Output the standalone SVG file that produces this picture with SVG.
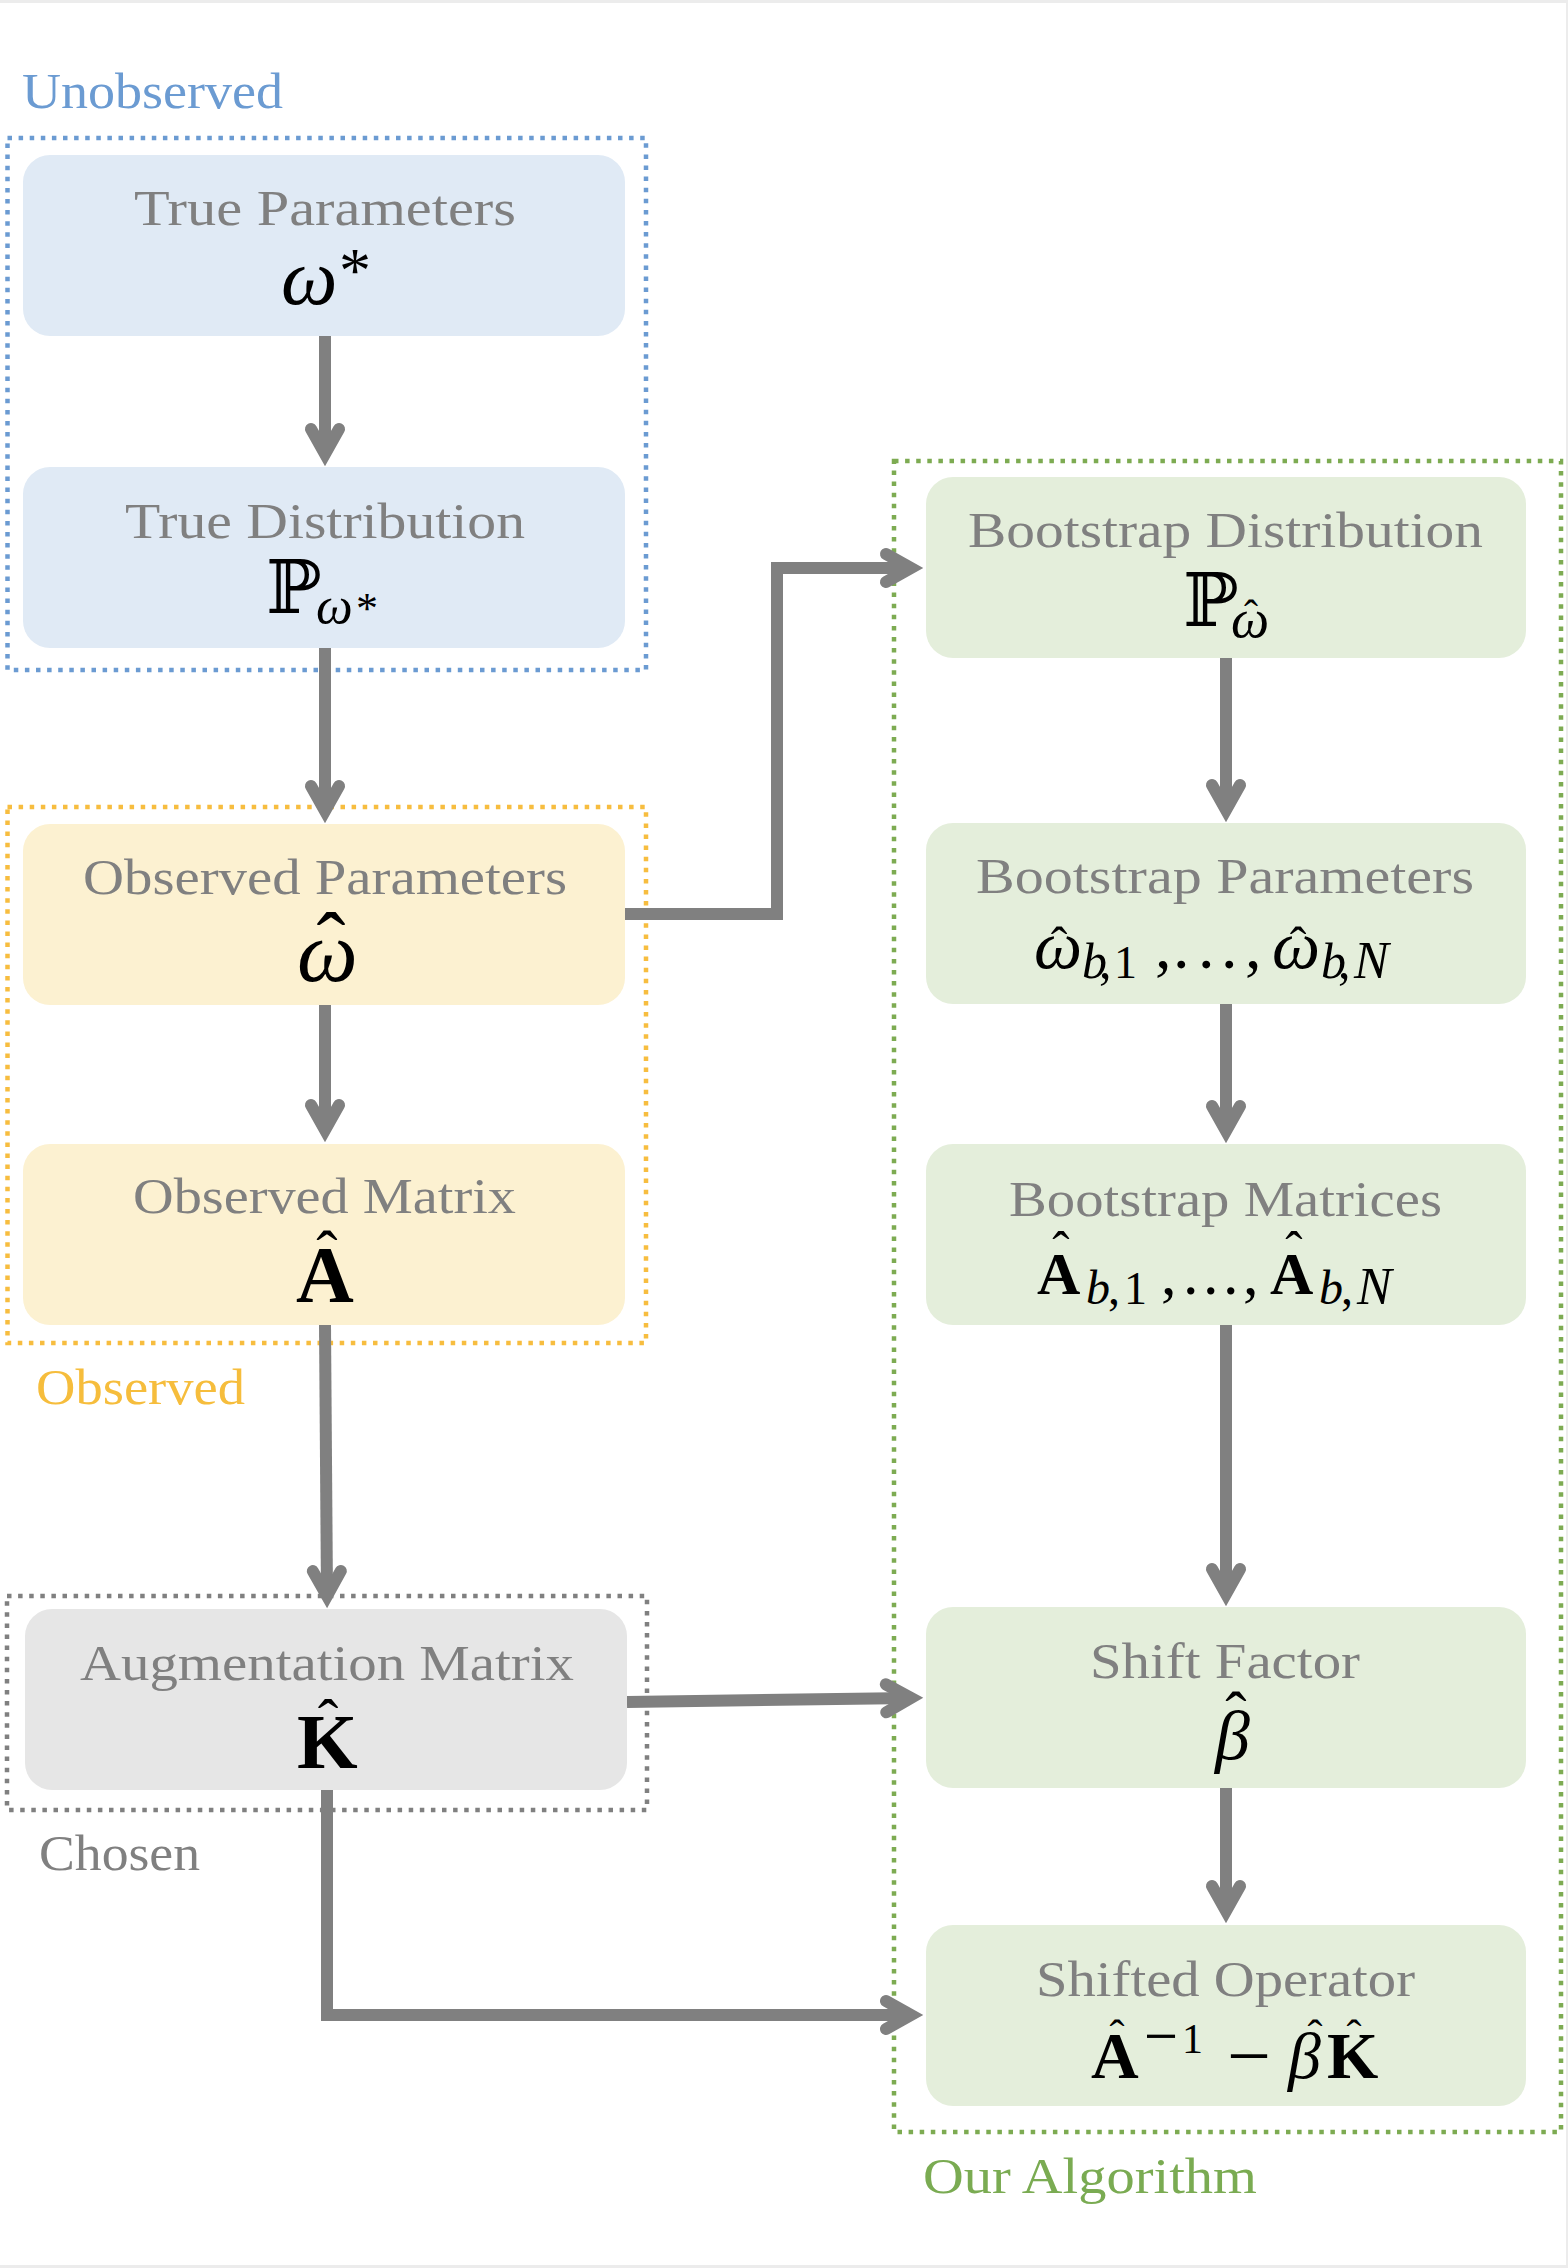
<svg xmlns="http://www.w3.org/2000/svg" width="1568" height="2268" viewBox="0 0 1568 2268">
<defs>
<style>
.bg{fill:#ececec}
.paper{fill:#ffffff}
.lbl{font-family:"Liberation Serif",serif;font-size:51px;fill:#808080}
.grp{font-family:"Liberation Serif",serif;font-size:51px}
.m{font-family:"Liberation Serif",serif;fill:#000}
.mi{font-style:italic}
.mb{font-weight:bold}
.bb{font-family:"DejaVu Serif","DejaVu Sans",serif;fill:#000}
.dot{fill:none;stroke-width:4.5;stroke-dasharray:4.5 6.6}
.n-blue{fill:#e0eaf5}
.n-yellow{fill:#fcf1d1}
.n-gray{fill:#e6e6e6}
.n-green{fill:#e4eedb}
.conn{fill:none;stroke:#808080;stroke-width:12;stroke-linejoin:miter;stroke-linecap:butt;marker-end:url(#arr)}
</style>
<marker id="arr" markerUnits="userSpaceOnUse" viewBox="-40 -30 60 60" markerWidth="60" markerHeight="60" refX="0" refY="0" orient="auto" overflow="visible">
<path d="M -25,-14 L 0,0 L -25,14" fill="none" stroke="#808080" stroke-width="12" stroke-linecap="round" stroke-linejoin="miter"/>
</marker>
</defs>
<rect class="bg" x="0" y="0" width="1568" height="2268"/>
<rect class="paper" x="0" y="3" width="1566" height="2262"/>

<g id="group-unobserved">
<rect class="dot" x="7.5" y="138" width="638.5" height="532" stroke="#6b9bd2"/>
<text class="grp" x="22" y="108" fill="#6b9bd2" textLength="261" lengthAdjust="spacingAndGlyphs">Unobserved</text>
</g>
<g id="group-observed">
<rect class="dot" x="7.5" y="807" width="638.5" height="536" stroke="#f7bd3f"/>
<text class="grp" x="36" y="1404" fill="#f6bd3c" textLength="209" lengthAdjust="spacingAndGlyphs">Observed</text>
</g>
<g id="group-chosen">
<rect class="dot" x="7" y="1596" width="640" height="214" stroke="#808080"/>
<text class="grp" x="39" y="1870" fill="#808080" textLength="161" lengthAdjust="spacingAndGlyphs">Chosen</text>
</g>
<g id="group-algorithm">
<rect class="dot" x="894" y="461" width="667" height="1671" stroke="#7dab52"/>
<text class="grp" x="923" y="2193" fill="#7aab52" textLength="334" lengthAdjust="spacingAndGlyphs">Our Algorithm</text>
</g>

<g id="connectors">
<path class="conn" d="M325,336 L325,454"/>
<path class="conn" d="M325,648 L325,811"/>
<path class="conn" d="M325,1004 L325,1130"/>
<path class="conn" d="M325,1325 L327,1596"/>
<path class="conn" d="M625,914 L777,914 L777,568 L911,568"/>
<path class="conn" d="M1226,658 L1226,810"/>
<path class="conn" d="M1226,1004 L1226,1131"/>
<path class="conn" d="M1226,1325 L1226,1594"/>
<path class="conn" d="M1226,1788 L1226,1911"/>
<path class="conn" d="M627,1702 L911,1698"/>
<path class="conn" d="M327,1790 L327,2015 L911,2015"/>
</g>

<g id="true-parameters">
<rect class="n-blue" x="23" y="155" width="602" height="181" rx="27"/>
<text class="lbl" x="134" y="225" textLength="382" lengthAdjust="spacingAndGlyphs">True Parameters</text>
<text class="m mi" x="281" y="304" font-size="80">ω</text>
<text class="m" x="339" y="292" font-size="64">*</text>
</g>

<g id="true-distribution">
<rect class="n-blue" x="23" y="467" width="602" height="181" rx="27"/>
<text class="lbl" x="125" y="538" textLength="400" lengthAdjust="spacingAndGlyphs">True Distribution</text>
<text class="bb" x="266" y="613" font-size="74">ℙ</text>
<text class="m mi" x="316" y="623" font-size="52">ω</text>
<text class="m" x="356" y="623" font-size="44">*</text>
</g>

<g id="observed-parameters">
<rect class="n-yellow" x="23" y="824" width="602" height="181" rx="27"/>
<text class="lbl" x="83" y="894" textLength="484" lengthAdjust="spacingAndGlyphs">Observed Parameters</text>
<text class="m mi" x="297" y="981" font-size="86">ω</text>
<text class="m" x="331" y="973" font-size="87" text-anchor="middle">ˆ</text>
</g>

<g id="observed-matrix">
<rect class="n-yellow" x="23" y="1144" width="602" height="181" rx="27"/>
<text class="lbl" x="133" y="1213" textLength="383" lengthAdjust="spacingAndGlyphs">Observed Matrix</text>
<text class="m mb" x="296" y="1302" font-size="80">A</text>
<text class="m" x="327" y="1275" font-size="64" text-anchor="middle">ˆ</text>
</g>

<g id="augmentation-matrix">
<rect class="n-gray" x="25" y="1609" width="602" height="181" rx="27"/>
<text class="lbl" x="80" y="1680" textLength="494" lengthAdjust="spacingAndGlyphs">Augmentation Matrix</text>
<text class="m mb" x="297" y="1768" font-size="78">K</text>
<text class="m" x="328" y="1742" font-size="62" text-anchor="middle">ˆ</text>
</g>

<g id="bootstrap-distribution">
<rect class="n-green" x="926" y="477" width="600" height="181" rx="27"/>
<text class="lbl" x="968" y="547" textLength="515" lengthAdjust="spacingAndGlyphs">Bootstrap Distribution</text>
<text class="bb" x="1183" y="626" font-size="74">ℙ</text>
<text class="m mi" x="1231" y="637" font-size="54">ω</text>
<text class="m" x="1251" y="629" font-size="42" text-anchor="middle">ˆ</text>
</g>

<g id="bootstrap-parameters">
<rect class="n-green" x="926" y="823" width="600" height="181" rx="27"/>
<text class="lbl" x="976" y="893" textLength="498" lengthAdjust="spacingAndGlyphs">Bootstrap Parameters</text>
<text class="m mi" x="1034" y="968" font-size="68">ω</text>
<text class="m" x="1059" y="962" font-size="50" text-anchor="middle">ˆ</text>
<text class="m mi" x="1082" y="978" font-size="50">b</text>
<text class="m" x="1099" y="978" font-size="50">,</text>
<text class="m" x="1114" y="978" font-size="46">1</text>
<text class="m" x="1155" y="968" font-size="66">,</text>
<text class="m" x="1173" y="968" font-size="66">.</text>
<text class="m" x="1198" y="968" font-size="66">.</text>
<text class="m" x="1221" y="968" font-size="66">.</text>
<text class="m" x="1245" y="968" font-size="66">,</text>
<text class="m mi" x="1272" y="968" font-size="68">ω</text>
<text class="m" x="1298" y="962" font-size="50" text-anchor="middle">ˆ</text>
<text class="m mi" x="1321" y="978" font-size="50">b</text>
<text class="m" x="1338" y="978" font-size="50">,</text>
<text class="m mi" x="1354" y="978" font-size="52">N</text>
</g>

<g id="bootstrap-matrices">
<rect class="n-green" x="926" y="1144" width="600" height="181" rx="27"/>
<text class="lbl" x="1009" y="1216" textLength="433" lengthAdjust="spacingAndGlyphs">Bootstrap Matrices</text>
<text class="m mb" x="1037" y="1294" font-size="60">A</text>
<text class="m" x="1061" y="1268" font-size="52" text-anchor="middle">ˆ</text>
<text class="m mi" x="1086" y="1304" font-size="48">b</text>
<text class="m" x="1108" y="1304" font-size="48">,</text>
<text class="m" x="1124" y="1304" font-size="46">1</text>
<text class="m" x="1161" y="1294" font-size="62">,</text>
<text class="m" x="1183" y="1294" font-size="62">.</text>
<text class="m" x="1203" y="1294" font-size="62">.</text>
<text class="m" x="1223" y="1294" font-size="62">.</text>
<text class="m" x="1243" y="1294" font-size="62">,</text>
<text class="m mb" x="1270" y="1294" font-size="60">A</text>
<text class="m" x="1294" y="1268" font-size="52" text-anchor="middle">ˆ</text>
<text class="m mi" x="1319" y="1304" font-size="48">b</text>
<text class="m" x="1341" y="1304" font-size="48">,</text>
<text class="m mi" x="1357" y="1304" font-size="52">N</text>
</g>

<g id="shift-factor">
<rect class="n-green" x="926" y="1607" width="600" height="181" rx="27"/>
<text class="lbl" x="1090" y="1678" textLength="270" lengthAdjust="spacingAndGlyphs">Shift Factor</text>
<text class="m mi" x="1215" y="1759" font-size="70">β</text>
<text class="m" x="1236" y="1736" font-size="64" text-anchor="middle">ˆ</text>
</g>

<g id="shifted-operator">
<rect class="n-green" x="926" y="1925" width="600" height="181" rx="27"/>
<text class="lbl" x="1036" y="1996" textLength="379" lengthAdjust="spacingAndGlyphs">Shifted Operator</text>
<text class="m mb" x="1091" y="2078" font-size="66">A</text>
<text class="m" x="1117" y="2050" font-size="45" text-anchor="middle">ˆ</text>
<text class="m" x="1144" y="2058" font-size="66" textLength="34" lengthAdjust="spacingAndGlyphs">−</text>
<text class="m" x="1182" y="2053" font-size="42">1</text>
<text class="m" x="1227" y="2080" font-size="72" textLength="44" lengthAdjust="spacingAndGlyphs">−</text>
<text class="m mi" x="1288" y="2078" font-size="66">β</text>
<text class="m" x="1315" y="2050" font-size="45" text-anchor="middle">ˆ</text>
<text class="m mb" x="1327" y="2078" font-size="66">K</text>
<text class="m" x="1354" y="2050" font-size="45" text-anchor="middle">ˆ</text>
</g>
</svg>
